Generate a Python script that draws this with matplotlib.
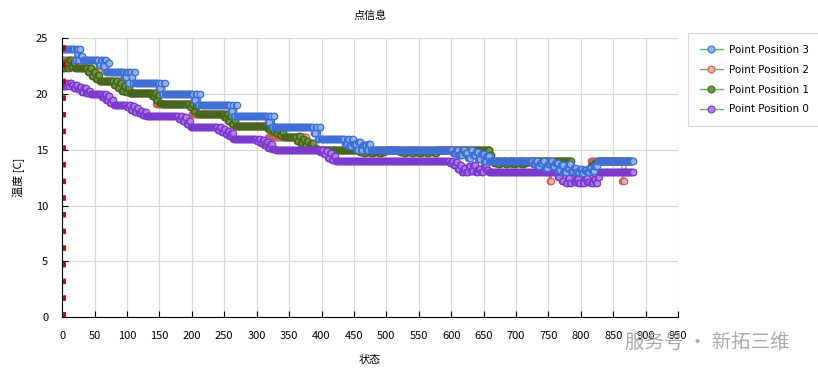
import numpy as np
import matplotlib
matplotlib.use("Agg")
from matplotlib import pyplot as plt
from matplotlib.lines import Line2D

plt.rcParams['font.family'] = ['Noto Sans CJK SC', 'DejaVu Sans']

# run-length data: (last state index, temperature)
pos3 = [(20, 24), (22, 23), (25, 24), (27, 23), (29, 24), (32, 23.4), (57, 23), (60, 22.6), (63, 23),
        (65, 22.5), (68, 23), (71, 22), (73, 22.8), (96, 22), (99, 21.5), (102, 22), (104, 21), (107, 22),
        (109, 21.5), (111, 21), (113, 22), (150, 21), (152, 20.5), (154, 21), (157, 20), (159, 21),
        (203, 20), (206, 19.5), (209, 20), (212, 19), (214, 20), (260, 19), (263, 18.5), (265, 19),
        (268, 18), (270, 19), (318, 18), (320, 17.5), (323, 18), (326, 17), (328, 18), (388, 17),
        (391, 16.5), (394, 17), (397, 16), (399, 17), (436, 16), (440, 15.5), (443, 16), (447, 15.3),
        (449, 16), (454, 15.5), (457, 15), (461, 15.7), (464, 15), (469, 15.4), (472, 15), (476, 15.5),
        (603, 15), (608, 14.7), (611, 15), (617, 14.5), (621, 15), (626, 14.7), (630, 14.3), (633, 15),
        (638, 14.5), (642, 14.8), (646, 14.2), (651, 14.6), (654, 14), (659, 14.4), (726, 14), (730, 13.7),
        (733, 14), (737, 13.5), (741, 13.8), (744, 14), (749, 13.4), (753, 13.7), (756, 14), (760, 13.5),
        (765, 13.8), (769, 13.2), (773, 13.6), (778, 13), (782, 13.4), (785, 13.7), (789, 13.1),
        (793, 13.4), (798, 13), (802, 13.3), (805, 12.9), (809, 13.2), (813, 13), (817, 13.4), (821, 13.1),
        (826, 13.5), (882, 14)]

pos2 = [(25, 23.0), (28, 22.6), (31, 23.0), (46, 22.3), (56, 22.0), (58, 22.2), (80, 21.2), (92, 21.2),
        (104, 20.5), (145, 20.1), (200, 19.1), (262, 18.2), (266, 17.9), (318, 17.1), (362, 16.1),
        (377, 16.1), (393, 15.2), (660, 15.0), (752, 14.0), (755, 12.2), (758, 13.6), (786, 14.0),
        (815, 13.1), (864, 14.0), (867, 12.2), (870, 13.0), (876, 14.0)]

pos1 = [(5, 22.3), (8, 22.8), (11, 22.3), (14, 23.0), (17, 22.4), (20, 22.9), (40, 22.3), (43, 22.0),
        (46, 22.3), (49, 21.6), (52, 22.0), (55, 21.3), (58, 21.7), (80, 21.2), (83, 20.8), (86, 21.2),
        (89, 20.5), (92, 21.0), (95, 20.3), (98, 20.7), (101, 20.2), (104, 20.5), (139, 20.1), (142, 19.8),
        (145, 20.1), (148, 19.5), (151, 19.9), (154, 19.2), (197, 19.1), (200, 18.8), (203, 19.1),
        (206, 18.5), (209, 18.9), (212, 18.2), (250, 18.2), (253, 17.9), (256, 18.2), (259, 17.6),
        (262, 18.0), (265, 17.3), (268, 17.7), (318, 17.1), (321, 16.9), (324, 17.1), (327, 16.7),
        (330, 17.0), (333, 16.5), (336, 16.8), (339, 16.3), (342, 16.6), (362, 16.1), (365, 15.8),
        (368, 16.2), (371, 15.6), (374, 16.0), (377, 15.4), (380, 15.8), (384, 15.2), (388, 15.6),
        (393, 15.1), (459, 15.0), (462, 14.8), (465, 15.0), (468, 14.7), (471, 14.9), (474, 14.8),
        (477, 15.0), (480, 14.7), (483, 14.9), (486, 14.8), (489, 15.0), (492, 14.7), (495, 14.9),
        (498, 14.8), (521, 15.0), (524, 14.8), (527, 14.9), (530, 14.7), (533, 14.9), (536, 14.8),
        (539, 15.0), (542, 14.7), (545, 14.9), (548, 14.8), (551, 14.9), (554, 14.7), (557, 14.9),
        (560, 14.8), (563, 14.9), (566, 14.7), (569, 14.9), (572, 14.8), (575, 14.9), (578, 14.7),
        (660, 15.0), (663, 14.5), (666, 14.0), (669, 13.8), (672, 14.0), (675, 13.7), (678, 13.9),
        (681, 13.8), (684, 14.0), (687, 13.7), (690, 13.9), (693, 13.8), (696, 14.0), (699, 13.7),
        (702, 13.9), (705, 13.8), (708, 14.0), (711, 13.7), (714, 13.9), (717, 13.8), (722, 13.9),
        (786, 14.0), (789, 13.2), (792, 13.0), (795, 13.2), (798, 13.0), (801, 13.2), (804, 13.1),
        (807, 13.2), (810, 13.0), (815, 13.2), (822, 13.5), (826, 13.8), (880, 14.0)]

pos0 = [(8, 20.7), (10, 21.0), (12, 20.7), (15, 21.0), (18, 20.8), (21, 20.5), (24, 20.8), (27, 20.4),
        (30, 20.6), (33, 20.2), (37, 20.5), (41, 20.1), (44, 20.3), (62, 20.0), (65, 19.7), (68, 20.0),
        (71, 19.5), (74, 19.8), (77, 19.2), (80, 19.5), (100, 19.0), (103, 18.8), (106, 19.0), (109, 18.6),
        (112, 18.9), (115, 18.4), (118, 18.7), (121, 18.3), (124, 18.5), (127, 18.1), (130, 18.4),
        (180, 18.0), (183, 17.8), (186, 18.0), (189, 17.6), (192, 17.9), (195, 17.3), (198, 17.6),
        (240, 17.0), (243, 16.8), (246, 17.0), (249, 16.6), (252, 16.9), (255, 16.4), (258, 16.7),
        (261, 16.2), (264, 16.5), (300, 16.0), (303, 15.8), (306, 16.0), (309, 15.6), (312, 15.9),
        (315, 15.4), (318, 15.7), (321, 15.2), (324, 15.5), (330, 15.1), (398, 15.0), (401, 14.8),
        (404, 15.0), (407, 14.6), (410, 14.9), (413, 14.3), (416, 14.7), (419, 14.1), (422, 14.4),
        (598, 14.0), (601, 13.8), (604, 14.0), (607, 13.6), (610, 13.9), (613, 13.3), (616, 13.6),
        (620, 13.0), (623, 13.4), (627, 13.0), (630, 13.5), (634, 13.1), (638, 13.6), (642, 13.0),
        (646, 13.3), (650, 13.0), (654, 13.5), (658, 13.2), (765, 13.0), (768, 12.6), (771, 13.0),
        (774, 12.2), (777, 13.0), (780, 12.0), (783, 12.5), (786, 12.0), (790, 13.0), (793, 12.1),
        (796, 12.4), (800, 12.0), (803, 13.0), (806, 12.0), (810, 12.5), (813, 12.1), (816, 13.0),
        (820, 12.0), (823, 12.4), (826, 12.0), (829, 12.6), (882, 13.0)]

labels = ["Point Position 3", "Point Position 2", "Point Position 1", "Point Position 0"]
face = {"Point Position 3": "#8fb5ee", "Point Position 2": "#f2aaa2",
        "Point Position 1": "#6f9a3c", "Point Position 0": "#b27ee9"}
edge = {"Point Position 3": "#3d6dd4", "Point Position 2": "#c0605a",
        "Point Position 1": "#46641e", "Point Position 0": "#7a38cc"}


def expand(runs):
    ends = [e for e, v in runs]
    vals = [v for e, v in runs]
    counts = np.diff([0] + ends)
    return np.repeat(vals, counts)


series = {"Point Position 3": expand(pos3), "Point Position 2": expand(pos2),
          "Point Position 1": expand(pos1), "Point Position 0": expand(pos0)}

fig = plt.figure(figsize=(8.18, 3.74), dpi=100)
ax = fig.add_axes([0.076, 0.152, 0.753, 0.746])

for name in ["Point Position 2", "Point Position 1", "Point Position 0", "Point Position 3"]:
    y = series[name]
    x = np.arange(len(y))
    ax.plot(x, y, "-", color=edge[name], lw=0.8, marker="o", ms=4.6,
            mfc=face[name], mec=edge[name], mew=0.8)

ax.axvline(3, color="#c00000", lw=2, linestyle=(0, (2, 4)))

ax.set_xlim(0, 950)
ax.set_ylim(0, 25)
ax.set_xticks(np.arange(0, 951, 50))
ax.set_yticks(np.arange(0, 26, 5))
ax.grid(True, color="#d9d9d9", lw=0.9)
ax.set_axisbelow(True)
for s in ["top", "right"]:
    ax.spines[s].set_visible(False)
ax.spines["left"].set_color("black")
ax.spines["bottom"].set_color("black")
ax.tick_params(direction="in", length=4, labelsize=8, pad=10, colors="black")

ax.set_title("点信息", fontsize=8, pad=14)
ax.set_xlabel("状态", fontsize=8, labelpad=10)
ax.set_ylabel("温度 [C]", fontsize=8, labelpad=8)

handles = [Line2D([], [], color="#5cb85c", lw=1, marker="o", ms=5,
                  mfc=face[n], mec=edge[n], mew=0.8) for n in labels]
leg = fig.legend(handles, labels, loc="upper left", bbox_to_anchor=(0.835, 0.925),
                 frameon=True, fancybox=False, borderpad=1.1,
                 labelspacing=0.95, handlelength=2.2, handletextpad=0.6,
                 prop={"family": "DejaVu Sans", "size": 7.5})
leg.get_frame().set_edgecolor("#d0d0d0")
leg.get_frame().set_linewidth(0.8)

fig.text(0.865, 0.085, "服务号 · 新拓三维", fontsize=14, color="#a8a8a8",
         ha="center", va="center")

fig.savefig("out.png", dpi=100)
